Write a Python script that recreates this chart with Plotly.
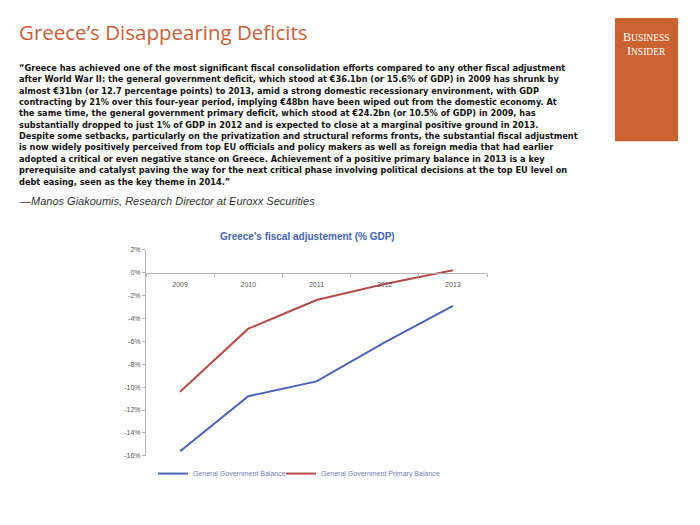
import plotly.graph_objects as go

years = ["2009", "2010", "2011", "2012", "2013"]
gg_balance = [-15.6, -10.8, -9.5, -6.1, -2.9]
gg_primary_balance = [-10.4, -4.9, -2.4, -1.0, 0.2]
series_names = ["General Government Balance", "General Government Primary Balance"]
y_tick_vals = [2, 0, -2, -4, -6, -8, -10, -12, -14, -16]
y_tick_text = ["2%", "0%", "-2%", "-4%", "-6%", "-8%", "-10%", "-12%", "-14%", "-16%"]

page_title = "Greece\u2019s Disappearing Deficits"
chart_title = "Greece's fiscal adjustement (% GDP)"
quote_lines = [
    "\u201cGreece has achieved one of the most significant fiscal consolidation efforts compared to any other fiscal adjustment",
    "after World War II: the general government deficit, which stood at \u20ac36.1bn (or 15.6% of GDP) in 2009 has shrunk by",
    "almost \u20ac31bn (or 12.7 percentage points) to 2013, amid a strong domestic recessionary environment, with GDP",
    "contracting by 21% over this four-year period, implying \u20ac48bn have been wiped out from the domestic economy. At",
    "the same time, the general government primary deficit, which stood at \u20ac24.2bn (or 10.5% of GDP) in 2009, has",
    "substantially dropped to just 1% of GDP in 2012 and is expected to close at a marginal positive ground in 2013.",
    "Despite some setbacks, particularly on the privatization and structural reforms fronts, the substantial fiscal adjustment",
    "is now widely positively perceived from top EU officials and policy makers as well as foreign media that had earlier",
    "adopted a critical or even negative stance on Greece. Achievement of a positive primary balance in 2013 is a key",
    "prerequisite and catalyst paving the way for the next critical phase involving political decisions at the top EU level on",
    "debt easing, seen as the key theme in 2014.\u201d",
]
attribution = "\u2014Manos Giakoumis, Research Director at Euroxx Securities"

# page body has an 8px margin; size the figure so it fills the 700x525 window
OFF = 8
W, H = 700 - 2 * OFF, 525 - 2 * OFF
def px(x):
    return (x - OFF) / W
def py(y):
    return 1 - (y - OFF) / H

x_dom = [px(146), px(487)]
y_dom = [py(458), py(249)]
y_min, y_max = -16, 2
zero_pos = y_dom[0] + (0 - y_min) / (y_max - y_min) * (y_dom[1] - y_dom[0])

fig = go.Figure()
fig.add_trace(go.Scatter(x=years, y=gg_balance, mode="lines", name=series_names[0],
                         line=dict(color="#4a64b5", width=2), legend="legend"))
fig.add_trace(go.Scatter(x=years, y=gg_primary_balance, mode="lines", name=series_names[1],
                         line=dict(color="#b44c48", width=2), legend="legend2"))

leg_common = dict(orientation="h", xanchor="left", yanchor="middle",
                  font=dict(family="Liberation Sans", size=7, color="#6f80bd"),
                  itemwidth=30, bgcolor="rgba(0,0,0,0)")

fig.update_layout(
    width=W, height=H,
    margin=dict(l=0, r=0, t=0, b=0, pad=0),
    paper_bgcolor="white", plot_bgcolor="white",
    font=dict(family="Liberation Sans", color="#555555"),
    showlegend=True,
    legend=dict(x=px(153), y=py(476), **leg_common),
    legend2=dict(x=px(281), y=py(476), **leg_common),
    xaxis=dict(type="category", domain=x_dom, anchor="free", position=zero_pos,
               range=[-0.5, len(years) - 0.5], showline=True, linecolor="#b5b5b5", linewidth=1,
               ticks="outside", tickson="boundaries", ticklen=3, tickcolor="#b5b5b5",
               ticklabelstandoff=5,
               tickfont=dict(size=7, color="#555555"), showgrid=False, zeroline=False,
               fixedrange=True),
    yaxis=dict(domain=y_dom, range=[y_min, y_max], tickvals=y_tick_vals, ticktext=y_tick_text,
               showline=True, linecolor="#b5b5b5", linewidth=1, ticks="outside", ticklen=3,
               tickcolor="#b5b5b5", tickfont=dict(size=7, color="#555555"),
               showgrid=False, zeroline=False, fixedrange=True),
)

annotations = [
    dict(text=page_title, x=px(17), y=py(28), xanchor="left", yanchor="middle",
         font=dict(family="Open Sans", size=20.5, color="#c8603a")),
    dict(text="<i>" + attribution + "</i>", x=px(17), y=py(200), xanchor="left", yanchor="middle",
         font=dict(family="Liberation Sans", size=11, color="#333333")),
    dict(text="<b>" + chart_title + "</b>", x=px(307), y=py(236), xanchor="center", yanchor="middle",
         font=dict(family="Liberation Sans", size=10, color="#4563b3")),
    dict(text="B<span style='font-size:9.5px'>USINESS</span>",
         x=px(646.5), y=py(33), xanchor="center", yanchor="middle",
         font=dict(family="Liberation Serif", size=12, color="#ffffff")),
    dict(text="I<span style='font-size:9.5px'>NSIDER</span>",
         x=px(646.5), y=py(47.5), xanchor="center", yanchor="middle",
         font=dict(family="Liberation Serif", size=12, color="#ffffff")),
]
for i, line in enumerate(quote_lines):
    annotations.append(dict(text="<b>" + line + "</b>", x=px(17), y=py(64.5 + 11.55 * i),
                            xanchor="left", yanchor="middle", align="left",
                            font=dict(family="DejaVu Sans", size=8.23, color="#111111")))
for a in annotations:
    a.update(xref="paper", yref="paper", showarrow=False)
fig.update_layout(annotations=annotations)

fig.add_shape(type="rect", xref="paper", yref="paper", x0=px(615), x1=px(678), y0=py(139), y1=py(14),
              fillcolor="#cb6231", line=dict(width=0), layer="below")

fig.write_html("out.html")
